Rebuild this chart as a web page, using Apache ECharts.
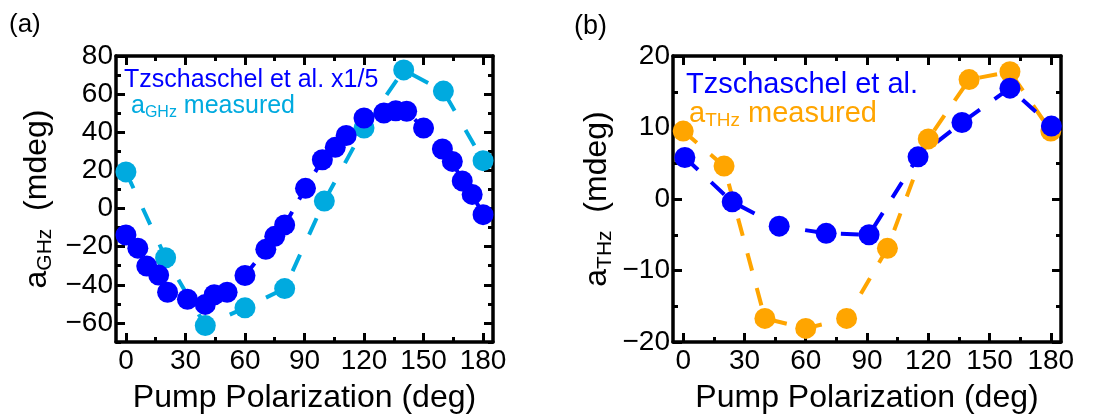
<!DOCTYPE html>
<html>
<head>
<meta charset="utf-8">
<script src="https://cdn.jsdelivr.net/npm/echarts@6/dist/echarts.min.js"></script>
<style>
  html, body { margin: 0; padding: 0; background: #fff; }
  #chart { width: 1110px; height: 416px; }
</style>
</head>
<body>
<div id="chart"></div>
<script>
// Panel (a): GHz amplitude vs pump polarization
const angleA_ref = [0, 6, 10.5, 16.5, 21, 31, 40, 44.5, 51, 60, 70.5, 75, 80, 90.5, 99, 105.5, 111, 120, 130, 136, 141.5, 150, 159.5, 164.5, 169.5, 174.5, 180];
const valA_ref = [-13.9, -20.8, -30.2, -34.9, -43.9, -47.6, -50.3, -45.2, -43.9, -35.1, -21.4, -14.6, -8.6, 10.6, 25.6, 32.1, 38.3, 47.5, 50.1, 51.3, 51.0, 42.2, 31.2, 24.7, 14.5, 7.4, -3.2];
const angleA_meas = [0, 20, 40, 60, 80, 100, 120, 140, 160, 180];
const valA_meas = [19.2, -25.8, -61.4, -52.1, -42.0, 3.9, 42.2, 72.7, 61.6, 25.1];

// Panel (b): THz amplitude vs pump polarization
const angleB_ref = [0.8, 24, 47, 70, 91, 115, 136.5, 160, 180.3];
const valB_ref = [5.8, -0.4, -3.8, -4.8, -5.0, 5.9, 10.7, 15.5, 10.2];
const angleB_meas = [0, 20, 40, 60, 80, 100, 120, 140, 160, 180];
const valB_meas = [9.5, 4.6, -16.7, -18.1, -16.7, -6.9, 8.4, 16.7, 17.8, 9.5];

// Tick positions
const xMajor = [0, 30, 60, 90, 120, 150, 180];
const xMinor = [15, 45, 75, 105, 135, 165];
const yMajorA = [-60, -40, -20, 0, 20, 40, 60, 80];
const yMinorA = [-70, -50, -30, -10, 10, 30, 50, 70];
const yMajorB = [-20, -10, 0, 10, 20];
const yMinorB = [-15, -5, 5, 15];

const BLUE = '#0000ff';
const CYAN = '#00aadf';
const ORANGE = '#ffa500';
const FONT = "'Liberation Sans', Arial, sans-serif";

const minus = v => String(v).replace('-', '\u2212');

function frameAxis(kind, grid, position, min, max, ticks, len, opts) {
  const ax = {
    type: 'value', gridIndex: grid, position: position, min: min, max: max,
    splitLine: { show: false },
    axisLine: { show: !!opts.line, onZero: false, lineStyle: { color: '#000', width: 3.5 } },
    axisTick: { show: true, inside: true, length: len, customValues: ticks,
                lineStyle: { color: '#000', width: 3 } },
    axisLabel: { show: false },
    minorTick: { show: false }
  };
  if (opts.labels) {
    ax.axisLabel = { show: true, customValues: opts.labels, formatter: minus,
                     fontFamily: FONT, fontSize: 28, color: '#000', margin: opts.margin };
  }
  if (opts.name) {
    ax.name = opts.name;
    ax.nameLocation = 'middle';
    ax.nameGap = opts.nameGap;
    if (kind === 'y') ax.nameRotate = 90;
    ax.nameTextStyle = { fontFamily: FONT, fontSize: 32, color: '#000', rich: opts.rich || {} };
  }
  return ax;
}

const subRich = {
  m: { fontFamily: FONT, fontSize: 32, color: '#000' },
  s: { fontFamily: FONT, fontSize: 21, color: '#000', padding: [16, 0, 0, 0] }
};

const xAxes = [], yAxes = [];
[0, 1].forEach(g => {
  xAxes.push(frameAxis('x', g, 'bottom', -5, 185, xMajor, 9,
    { line: true, labels: xMajor, margin: 5, name: 'Pump Polarization (deg)', nameGap: 40 }));
  xAxes.push(frameAxis('x', g, 'bottom', -5, 185, xMinor, 5, {}));
  xAxes.push(frameAxis('x', g, 'top', -5, 185, xMajor, 9, { line: true }));
  xAxes.push(frameAxis('x', g, 'top', -5, 185, xMinor, 5, {}));
});

// Panel (a) y axes
yAxes.push(frameAxis('y', 0, 'left', -70, 80, yMajorA, 9,
  { line: true, labels: yMajorA, margin: 3, name: '{m|a}{s|GHz}{m|  (mdeg)}', nameGap: 60, rich: subRich }));
yAxes.push(frameAxis('y', 0, 'left', -70, 80, yMinorA, 5, {}));
yAxes.push(frameAxis('y', 0, 'right', -70, 80, yMajorA, 9, { line: true }));
yAxes.push(frameAxis('y', 0, 'right', -70, 80, yMinorA, 5, {}));
// Panel (b) y axes
yAxes.push(frameAxis('y', 1, 'left', -20, 20, yMajorB, 9,
  { line: true, labels: yMajorB, margin: 3, name: '{m|a}{s|THz}{m|  (mdeg)}', nameGap: 57, rich: subRich }));
yAxes.push(frameAxis('y', 1, 'left', -20, 20, yMinorB, 5, {}));
yAxes.push(frameAxis('y', 1, 'right', -20, 20, yMajorB, 9, { line: true }));
yAxes.push(frameAxis('y', 1, 'right', -20, 20, yMinorB, 5, {}));

const zip = (xs, ys) => xs.map((x, i) => [x, ys[i]]);

function lineSeries(name, xi, yi, xs, ys, color, dash) {
  return {
    name: name, type: 'line', xAxisIndex: xi, yAxisIndex: yi,
    data: zip(xs, ys), symbol: 'circle', symbolSize: 21, clip: false,
    itemStyle: { color: color },
    lineStyle: { color: color, width: 4, type: dash },
    emphasis: { disabled: true }, animation: false
  };
}

const option = {
  backgroundColor: '#fff',
  animation: false,
  grid: [
    { left: 116, top: 56, width: 377, height: 286, outerBoundsMode: 'none', containLabel: false },
    { left: 673, top: 56, width: 388, height: 286, outerBoundsMode: 'none', containLabel: false }
  ],
  xAxis: xAxes,
  yAxis: yAxes,
  series: [
    lineSeries('aGHz measured', 0, 0, angleA_meas, valA_meas, CYAN, [18, 22]),
    lineSeries('Tzschaschel et al. x1/5', 0, 0, angleA_ref, valA_ref, BLUE, [18, 14]),
    lineSeries('aTHz measured', 4, 4, angleB_meas, valB_meas, ORANGE, [18, 18]),
    lineSeries('Tzschaschel et al.', 4, 4, angleB_ref, valB_ref, BLUE, [18, 18])
  ],
  graphic: [
    { type: 'text', left: 9, top: 12, style: { text: '(a)', font: '26px ' + FONT, fill: '#000' } },
    { type: 'text', left: 574, top: 13, style: { text: '(b)', font: '27px ' + FONT, fill: '#000' } },
    { type: 'text', left: 124, top: 68, z: 10,
      style: { text: 'Tzschaschel et al. x1/5', font: '25px ' + FONT, fill: BLUE } },
    { type: 'text', left: 131, top: 94, z: 10,
      style: { text: '{m|a}{s|GHz}{m| measured}', fill: CYAN,
        rich: { m: { fontFamily: FONT, fontSize: 25, fill: CYAN },
                s: { fontFamily: FONT, fontSize: 16, fill: CYAN, padding: [12, 0, 0, 0] } } } },
    { type: 'text', left: 686, top: 70, z: 10,
      style: { text: 'Tzschaschel et al.', font: '29px ' + FONT, fill: BLUE } },
    { type: 'text', left: 689, top: 99, z: 10,
      style: { text: '{m|a}{s|THz}{m| measured}', fill: ORANGE,
        rich: { m: { fontFamily: FONT, fontSize: 29, fill: ORANGE },
                s: { fontFamily: FONT, fontSize: 19, fill: ORANGE, padding: [14, 0, 0, 0] } } } }
  ]
};

const chart = echarts.init(document.getElementById('chart'), null, { renderer: 'canvas' });
chart.setOption(option);
</script>
</body>
</html>
